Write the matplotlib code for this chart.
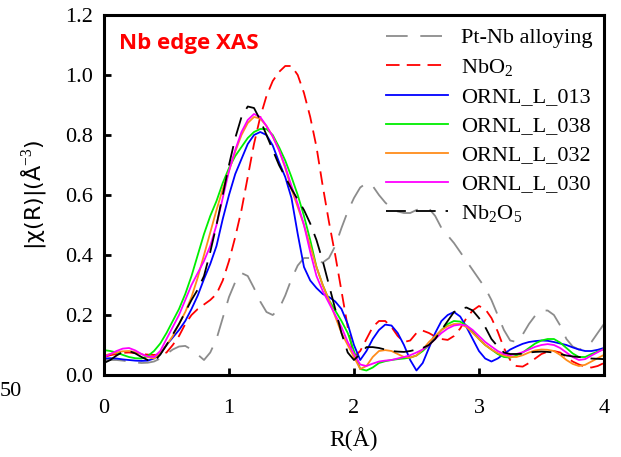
import matplotlib
matplotlib.use("Agg")
import matplotlib.pyplot as plt

# R grid (Angstrom), sampled every 0.05
r = [0.00, 0.05, 0.10, 0.15, 0.20, 0.25, 0.30, 0.35, 0.40, 0.45,
     0.50, 0.55, 0.60, 0.65, 0.70, 0.75, 0.80, 0.85, 0.90, 0.95,
     1.00, 1.05, 1.10, 1.15, 1.20, 1.25, 1.30, 1.35, 1.40, 1.45,
     1.50, 1.55, 1.60, 1.65, 1.70, 1.75, 1.80, 1.85, 1.90, 1.95,
     2.00, 2.05, 2.10, 2.15, 2.20, 2.25, 2.30, 2.35, 2.40, 2.45,
     2.50, 2.55, 2.60, 2.65, 2.70, 2.75, 2.80, 2.85, 2.90, 2.95,
     3.00, 3.05, 3.10, 3.15, 3.20, 3.25, 3.30, 3.35, 3.40, 3.45,
     3.50, 3.55, 3.60, 3.65, 3.70, 3.75, 3.80, 3.85, 3.90, 3.95,
     4.00]

# |chi(R)|
pt_nb = [0.05, 0.05, 0.05, 0.048, 0.045, 0.042, 0.04, 0.041, 0.045, 0.055,
         0.07, 0.085, 0.095, 0.097, 0.085, 0.068, 0.05, 0.075, 0.12, 0.19,
         0.26, 0.31, 0.34, 0.33, 0.29, 0.245, 0.21, 0.20, 0.22, 0.265,
         0.32, 0.365, 0.39, 0.39, 0.38, 0.375, 0.39, 0.43, 0.49, 0.545,
         0.59, 0.625, 0.64, 0.63, 0.60, 0.575, 0.555, 0.545, 0.54, 0.54,
         0.55, 0.557, 0.555, 0.53, 0.49, 0.465, 0.44, 0.41, 0.38, 0.35,
         0.32, 0.29, 0.25, 0.20, 0.15, 0.115, 0.11, 0.135, 0.17, 0.198,
         0.215, 0.215, 0.20, 0.165, 0.12, 0.095, 0.085, 0.09, 0.11, 0.14,
         0.17]
nbo2 = [0.06, 0.066, 0.07, 0.074, 0.075, 0.073, 0.07, 0.068, 0.067, 0.068,
        0.075, 0.10, 0.13, 0.17, 0.20, 0.22, 0.235, 0.25, 0.27, 0.315,
        0.38, 0.46, 0.55, 0.66, 0.77, 0.86, 0.93, 0.98, 1.01, 1.03,
        1.03, 1.00, 0.94, 0.86, 0.76, 0.63, 0.51, 0.40, 0.28, 0.16,
        0.06, 0.08, 0.12, 0.16, 0.18, 0.18, 0.16, 0.13, 0.11, 0.115,
        0.14, 0.148, 0.14, 0.128, 0.12, 0.117, 0.13, 0.155, 0.19, 0.215,
        0.23, 0.22, 0.19, 0.145, 0.09, 0.05, 0.03, 0.028, 0.04, 0.055,
        0.07, 0.078, 0.08, 0.075, 0.06, 0.045, 0.035, 0.028, 0.025, 0.03,
        0.04]
l013 = [0.055, 0.056, 0.055, 0.052, 0.05, 0.048, 0.047, 0.048, 0.055, 0.07,
        0.10, 0.125, 0.15, 0.18, 0.22, 0.265, 0.32, 0.37, 0.43, 0.52,
        0.60, 0.67, 0.72, 0.77, 0.80, 0.81, 0.80, 0.765, 0.71, 0.66,
        0.59, 0.47, 0.36, 0.315, 0.29, 0.27, 0.26, 0.245, 0.22, 0.17,
        0.10, 0.05, 0.08, 0.12, 0.15, 0.168, 0.165, 0.14, 0.10, 0.05,
        0.015, 0.04, 0.09, 0.14, 0.18, 0.20, 0.21, 0.195, 0.16, 0.12,
        0.08, 0.055, 0.045, 0.055, 0.07, 0.085, 0.095, 0.104, 0.11, 0.113,
        0.115, 0.114, 0.11, 0.105, 0.10, 0.092, 0.085, 0.08, 0.08, 0.084,
        0.09]
l038 = [0.083, 0.08, 0.075, 0.067, 0.06, 0.056, 0.055, 0.063, 0.08, 0.105,
        0.14, 0.18, 0.22, 0.27, 0.33, 0.40, 0.47, 0.53, 0.58, 0.64,
        0.69, 0.73, 0.76, 0.79, 0.81, 0.82, 0.82, 0.80, 0.76, 0.715,
        0.66, 0.60, 0.53, 0.45, 0.36, 0.30, 0.25, 0.215, 0.18, 0.14,
        0.08, 0.02, 0.015, 0.025, 0.04, 0.046, 0.05, 0.053, 0.055, 0.058,
        0.065, 0.08, 0.10, 0.125, 0.15, 0.17, 0.18, 0.178, 0.165, 0.145,
        0.12, 0.10, 0.085, 0.07, 0.06, 0.058, 0.065, 0.075, 0.09, 0.105,
        0.115, 0.12, 0.12, 0.108, 0.09, 0.072, 0.06, 0.06, 0.07, 0.078,
        0.087]
l032 = [0.065, 0.07, 0.075, 0.079, 0.08, 0.076, 0.07, 0.06, 0.055, 0.072,
        0.10, 0.13, 0.17, 0.21, 0.26, 0.325, 0.40, 0.475, 0.55, 0.62,
        0.68, 0.745, 0.80, 0.84, 0.86, 0.855, 0.83, 0.795, 0.75, 0.69,
        0.62, 0.56, 0.50, 0.43, 0.36, 0.30, 0.25, 0.195, 0.14, 0.10,
        0.06, 0.02, 0.03, 0.06, 0.08, 0.083, 0.08, 0.07, 0.06, 0.058,
        0.065, 0.085, 0.11, 0.13, 0.15, 0.163, 0.17, 0.17, 0.16, 0.14,
        0.12, 0.10, 0.085, 0.073, 0.065, 0.06, 0.06, 0.066, 0.075, 0.082,
        0.085, 0.084, 0.08, 0.067, 0.05, 0.037, 0.03, 0.034, 0.045, 0.056,
        0.067]
l030 = [0.06, 0.07, 0.08, 0.088, 0.09, 0.082, 0.07, 0.062, 0.06, 0.08,
        0.12, 0.16, 0.20, 0.25, 0.30, 0.34, 0.38, 0.43, 0.50, 0.59,
        0.68, 0.75, 0.81, 0.85, 0.87, 0.86, 0.83, 0.795, 0.75, 0.695,
        0.63, 0.57, 0.50, 0.41, 0.33, 0.28, 0.24, 0.20, 0.16, 0.11,
        0.07, 0.035, 0.03, 0.038, 0.045, 0.048, 0.05, 0.055, 0.06, 0.066,
        0.075, 0.085, 0.10, 0.12, 0.14, 0.155, 0.165, 0.168, 0.165, 0.15,
        0.13, 0.11, 0.095, 0.08, 0.07, 0.066, 0.07, 0.076, 0.085, 0.094,
        0.10, 0.103, 0.10, 0.09, 0.075, 0.06, 0.05, 0.053, 0.065, 0.076,
        0.087]
nb2o5 = [0.04, 0.05, 0.065, 0.077, 0.08, 0.072, 0.06, 0.05, 0.045, 0.068,
         0.10, 0.135, 0.17, 0.21, 0.25, 0.285, 0.33, 0.41, 0.50, 0.60,
         0.70, 0.79, 0.86, 0.895, 0.89, 0.85, 0.80, 0.75, 0.70, 0.66,
         0.62, 0.585, 0.55, 0.505, 0.45, 0.38, 0.30, 0.22, 0.14, 0.075,
         0.05, 0.07, 0.093, 0.093, 0.09, 0.085, 0.08, 0.078, 0.077, 0.08,
         0.085, 0.09, 0.10, 0.12, 0.15, 0.18, 0.21, 0.22, 0.225, 0.215,
         0.19, 0.16, 0.12, 0.095, 0.075, 0.07, 0.07, 0.071, 0.075, 0.077,
         0.078, 0.077, 0.075, 0.07, 0.065, 0.062, 0.06, 0.057, 0.055, 0.054,
         0.053]

series = [
    (pt_nb, "Pt-Nb alloying", "#8c8c8c", (0, (12, 7))),
    (nbo2, "NbO$_2$", "#ff0000", (0, (7.5, 4))),
    (l013, "ORNL_L_013", "#0000ff", "-"),
    (l038, "ORNL_L_038", "#00ee00", "-"),
    (l032, "ORNL_L_032", "#ff8c1a", "-"),
    (l030, "ORNL_L_030", "#ff00ff", "-"),
    (nb2o5, "Nb$_2$O$_5$", "#000000", (0, (11, 5.5))),
]

plt.rcParams["mathtext.fontset"] = "custom"
plt.rcParams["mathtext.rm"] = "Liberation Serif"

fig = plt.figure(figsize=(6.21, 4.57), dpi=100)
ax = fig.add_axes([0.1675, 0.1794, 0.805, 0.7878])

for y, label, color, ls in series:
    ax.plot(r, y, color=color, linestyle=ls, linewidth=1.3, label=label)

ax.set_xlim(0, 4)
ax.set_ylim(0, 1.2)
ax.set_xticks([0, 1, 2, 3, 4])
ax.set_yticks([0.0, 0.2, 0.4, 0.6, 0.8, 1.0, 1.2])
ax.set_yticklabels(["0.0", "0.2", "0.4", "0.6", "0.8", "1.0", "1.2"])

for s in ax.spines.values():
    s.set_linewidth(2.2)
ax.tick_params(direction="in", length=5, width=2, labelsize=16)
ax.tick_params(axis="y", pad=8)
ax.tick_params(axis="x", pad=17)
for lbl in ax.get_xticklabels() + ax.get_yticklabels():
    lbl.set_family("Liberation Serif")

ax.set_xlabel("R(Å)", fontsize=17, family="Liberation Serif", labelpad=7)
ax.set_ylabel("|χ(R)|(Å$^{-3}$)", fontsize=16, family="DejaVu Sans")
ax.yaxis.set_label_coords(-0.112, 0.5)

ax.text(0.03, 0.92, "Nb edge XAS", transform=ax.transAxes, color="red",
        fontsize=16, fontweight="bold", family="Open Sans", va="center")

leg = ax.legend(loc="upper right", bbox_to_anchor=(1.0, 0.995), frameon=False,
                prop={"family": "Liberation Serif", "size": 16},
                handlelength=2.8, labelspacing=0.38, borderaxespad=0.1,
                handletextpad=0.6)

# leftover label at the far left edge
fig.text(0.0, 1 - 391 / 457, "50", ha="left", va="center",
         fontsize=16, family="Liberation Serif")

fig.savefig("out.png", dpi=100)
